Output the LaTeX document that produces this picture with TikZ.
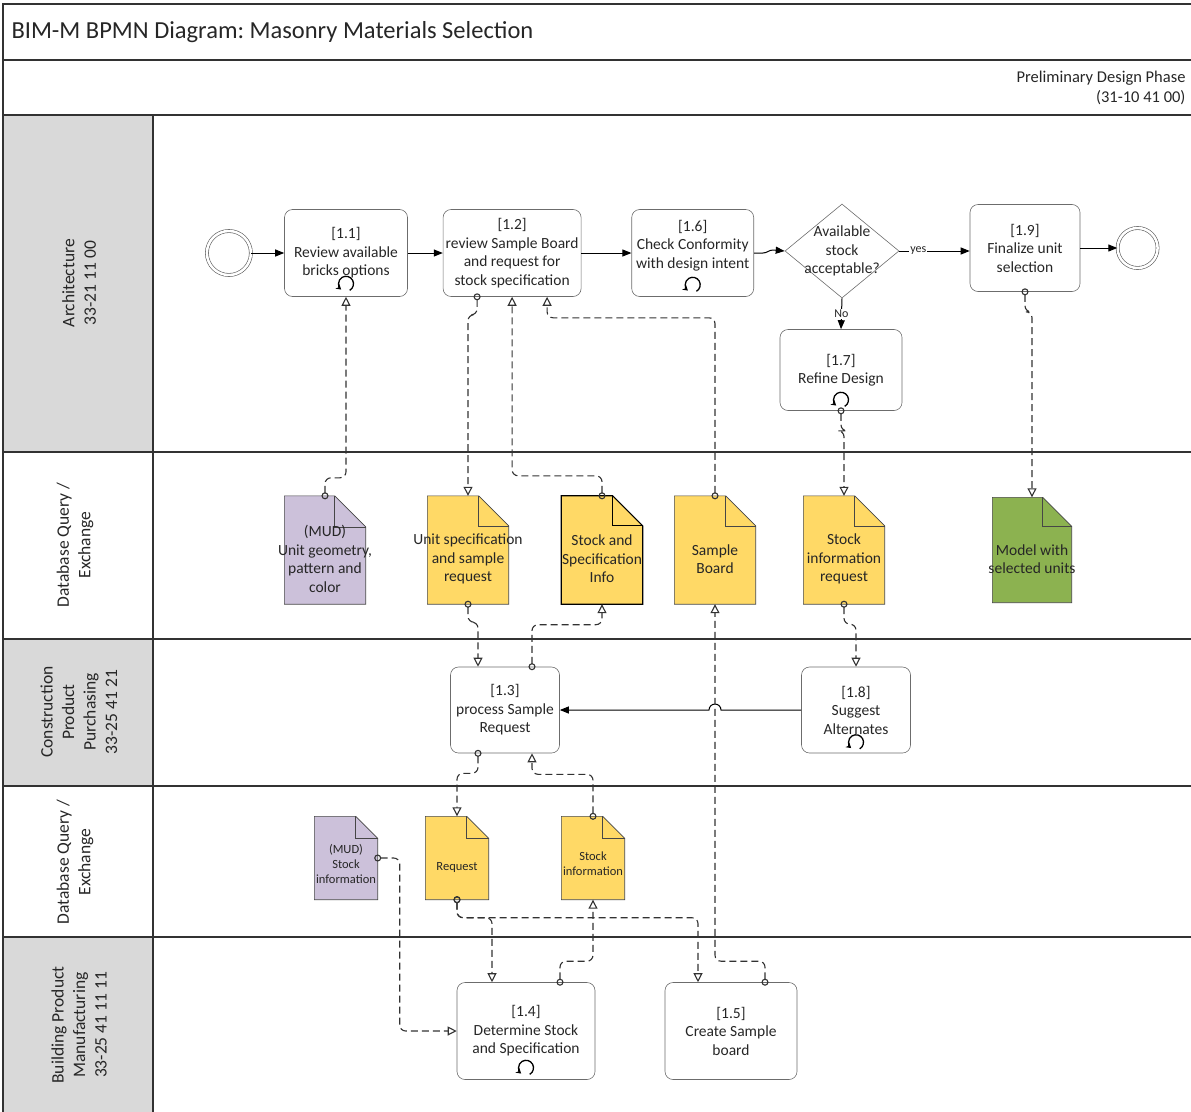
\documentclass[tikz,border=0pt]{standalone}
\usepackage{fontspec}
\setmainfont{Carlito}
\frenchspacing
\usetikzlibrary{positioning, arrows.meta, calc, shapes.geometric}

\definecolor{lanegray}{RGB}{217,217,217}
\definecolor{docyellow}{RGB}{255,217,102}
\definecolor{docpurple}{RGB}{204,193,218}
\definecolor{docgreen}{RGB}{140,178,80}
\definecolor{linegray}{RGB}{50,50,50}
\definecolor{textdark}{RGB}{38,38,38}

\pgfdeclarelayer{lanes}
\pgfdeclarelayer{docs}
\pgfsetlayers{lanes,docs,main}

\tikzset{
    task/.style={rectangle, rounded corners=8pt, draw=gray!85!black, line width=0.6pt,
        align=center, text=textdark, font=\fontsize{15.5}{18.5}\selectfont, inner sep=2pt},
    event/.style={circle, draw=gray!70!black, double, double distance=2.5pt,
        line width=0.6pt, minimum size=#1, inner sep=0pt},
    gateway/.style={diamond, draw=gray!85!black, line width=0.6pt,
        minimum width=114pt, minimum height=94pt, inner sep=0pt},
    doc/.style={rectangle, inner sep=0pt, minimum width=81pt, minimum height=108pt},
    smalldoc/.style={rectangle, inner sep=0pt, minimum width=63pt, minimum height=83pt},
    doctext/.style={align=center, text=textdark, font=\fontsize{15.5}{18.5}\selectfont, yshift=-9pt},
    smalldoctext/.style={align=center, text=textdark, font=\fontsize{12.5}{15}\selectfont, yshift=-6pt},
    docline/.style={draw=gray!55!black, line width=0.6pt},
    seqflow/.style={-{Triangle[length=9pt,width=7pt]}, line width=1pt, black},
    assoc/.style={{Circle[open,length=7pt,width=7pt]}-{Triangle[open,length=9pt,width=9pt]},
        shorten <=-3.5pt, dash pattern=on 7pt off 4pt, line width=1.1pt, linegray, rounded corners=6pt},
    flowlabel/.style={fill=white, inner sep=1pt, text=textdark, font=\fontsize{12}{13}\selectfont},
    lanetext/.style={rotate=90, align=center, text=textdark, font=\fontsize{17.5}{21.5}\selectfont},
    frameline/.style={draw=linegray, line width=1.2pt},
    loopmark/.pic={\draw[line width=1.3pt, -{Stealth[length=5pt,width=6pt]}]
        (-60:7.5pt) arc[start angle=-60, end angle=230, radius=7.5pt];}
}

\newcommand\docshape[4][]{%
    \filldraw[docline, #1, fill=#4] (#2.south west) -- (#2.north west) -- ([xshift=-#3]#2.north east)
        -- ([yshift=-#3]#2.north east) -- (#2.south east) -- cycle;
    \draw[docline, #1] ([xshift=-#3]#2.north east) |- ([yshift=-#3]#2.north east);
}

\begin{document}
\begin{tikzpicture}[x=1pt, y=-1pt]
        \useasboundingbox (0,0) rectangle (1191,1111);
        \clip (0,0) rectangle (1191,1111);

        \begin{pgfonlayer}{lanes}
            \fill[lanegray] (3,115) rectangle (153,452);
            \fill[lanegray] (3,639) rectangle (153,786);
            \fill[lanegray] (3,937) rectangle (153,1120);
            \draw[frameline] (3,4) rectangle (1200,1120);
            \draw[frameline] (3,60) -- (1200,60);
            \draw[frameline] (3,115) -- (1200,115);
            \foreach \y in {452,639,786,937}
                \draw[frameline] (3,\y) -- (1200,\y);
            \draw[frameline] (153,115) -- (153,1120);
        \end{pgfonlayer}

        \node[anchor=west, text=textdark, font=\fontsize{24.5}{28}\selectfont] (title) at (8,32)
            {BIM-M BPMN Diagram: Masonry Materials Selection};
        \node[anchor=east, align=right, text=textdark, font=\fontsize{16.5}{20}\selectfont] (phase) at (1189,88)
            {Preliminary Design Phase\\(31-10 41 00)};

        \node[lanetext] (lane1) at (79,283) {Architecture\\33-21 11 00};
        \node[lanetext] (lane2) at (75,545) {Database Query /\\Exchange};
        \node[lanetext] (lane3) at (79,712) {Construction\\Product\\Purchasing\\33-25 41 21};
        \node[lanetext] (lane4) at (75,862) {Database Query /\\Exchange};
        \node[lanetext] (lane5) at (79,1025) {Building Product\\Manufacturing\\33-25 41 11 11};

        \node[task, minimum width=123pt, minimum height=87pt] (t11) at (346,253)
            {[1.1]\\Review available\\bricks options};
        \node[event=44pt, left=33pt of t11] (start) {};
        \node[task, minimum width=138pt, minimum height=87pt, right=35pt of t11] (t12)
            {[1.2]\\review Sample Board\\and request for\\stock specification};
        \node[task, minimum width=122pt, minimum height=87pt, text depth=18pt, right=50pt of t12] (t16)
            {[1.6]\\Check Conformity\\with design intent};
        \node[gateway, label={[align=center, text=textdark, font=\fontsize{15.5}{18.5}\selectfont]center:{Available\\stock\\acceptable?}}]
            (gw) at (842,251) {};
        \node[task, minimum width=110pt, minimum height=87pt] (t19) at (1025,248)
            {[1.9]\\Finalize unit\\selection};
        \node[event=40pt, right=37pt of t19] (end) {};
        \node[task, minimum width=122pt, minimum height=81pt] (t17) at (841,370)
            {[1.7]\\Refine Design};

        \node[doc, label={[doctext]center:{(MUD)\\Unit geometry,\\pattern and\\color}}] (d1) at (325,550) {};
        \node[doc, label={[doctext]center:{Unit specification\\and sample\\request}}] (d2) at (468,550) {};
        \node[doc, label={[doctext]center:{Stock and\\Specification\\Info}}] (d3) at (602,550) {};
        \node[doc, label={[doctext]center:{Sample\\Board}}] (d4) at (715,550) {};
        \node[doc, label={[doctext]center:{Stock\\information\\request}}] (d5) at (844,550) {};
        \node[doc, minimum width=79pt, minimum height=105pt, label={[doctext]center:{Model with\\selected units}}] (d6) at (1032,550) {};

        \node[task, minimum width=109pt, minimum height=86pt] (t13) at (505,710)
            {[1.3]\\process Sample\\Request};
        \node[task, minimum width=109pt, minimum height=86pt] (t18) at (856,710)
            {[1.8]\\Suggest\\Alternates};

        \node[smalldoc, label={[smalldoctext]center:{(MUD)\\Stock\\information}}] (e1) at (346,858) {};
        \node[smalldoc, label={[smalldoctext, yshift=-3pt]center:{Request}}] (e2) at (457,858) {};
        \node[smalldoc, label={[smalldoctext]center:{Stock\\information}}] (e3) at (593,858) {};

        \node[task, minimum width=138pt, minimum height=97pt] (t14) at (526,1031)
            {[1.4]\\Determine Stock\\and Specification};
        \node[task, minimum width=132pt, minimum height=97pt] (t15) at (731,1031)
            {[1.5]\\Create Sample\\board};

        \begin{pgfonlayer}{docs}
            \docshape{d1}{31pt}{docpurple}
            \docshape{d2}{30pt}{docyellow}
            \docshape[draw=black, line width=1.2pt]{d3}{30pt}{docyellow}
            \docshape{d4}{30pt}{docyellow}
            \docshape{d5}{30pt}{docyellow}
            \docshape{d6}{29pt}{docgreen}
            \docshape{e1}{22pt}{docpurple}
            \docshape{e2}{22pt}{docyellow}
            \docshape{e3}{22pt}{docyellow}
        \end{pgfonlayer}

        \pic at ([yshift=13pt]t11.south) {loopmark};
        \pic at ([yshift=12pt]t16.south) {loopmark};
        \pic at ([yshift=11pt]t17.south) {loopmark};
        \pic at ([yshift=11pt]t18.south) {loopmark};
        \pic at ([yshift=12pt]t14.south) {loopmark};

        \draw[seqflow] (start) -- (t11);
        \draw[seqflow] (t11) -- (t12);
        \draw[seqflow] (t12) -- (t16);
        \draw[seqflow] (t16.east) -- ++(9,0) to[out=0, in=180] ++(10,-3) -- (gw.west);
        \draw[seqflow] (gw.east) -- node[flowlabel, pos=0.27]{yes} (gw.east -| t19.west);
        \draw[seqflow] (t19) -- (end);
        \draw[seqflow] (gw.south) -- node[flowlabel]{No} (t17.north);
        \draw[seqflow] (t18.west) -- ($(d4.south |- t18.west)+(6,0)$)
            arc[start angle=0, end angle=180, radius=6pt] -- (t13.east);

        \draw[assoc] (d1.north) -- ++(0,-18) -| (t11.south);
        \draw[assoc] ([xshift=-35pt]t12.south) -- ++(0,18) -| (d2.north);
        \draw[assoc] (d3.north) -- ++(0,-20) -| (t12.south);
        \draw[assoc] (d4.north) -- ++(0,-178) -| ([xshift=35pt]t12.south);
        \draw[assoc] (t17.south) -- ++(0,20) -| (d5.north);
        \draw[assoc] (t19.south) -- ++(0,20) -| (d6.north);
        \draw[assoc] (d2.south) -- ++(0,18) -| ([xshift=-27pt]t13.north);
        \draw[assoc] ([xshift=27pt]t13.north) -- ++(0,-42) -| (d3.south);
        \draw[assoc] (d5.south) -- ++(0,20) -| (t18.north);
        \draw[assoc] ([xshift=-27pt]t13.south) -- ++(0,20) -| (e2.north);
        \draw[assoc] (e3.north) -- ++(0,-42) -| ([xshift=27pt]t13.south);
        \draw[assoc] (e1.east) -- ++(22,0) |- (t14.west);
        \draw[assoc] (e2.south) -- ++(0,18) -| ([xshift=-34pt]t14.north);
        \draw[assoc] ([xshift=34pt]t14.north) -- ++(0,-21) -| (e3.south);
        \draw[assoc] (e2.south) -- ++(0,18) -| ([xshift=-33pt]t15.north);
        \draw[assoc] ([xshift=34pt]t15.north) -- ++(0,-21) -| (d4.south);
\end{tikzpicture}
\end{document}
